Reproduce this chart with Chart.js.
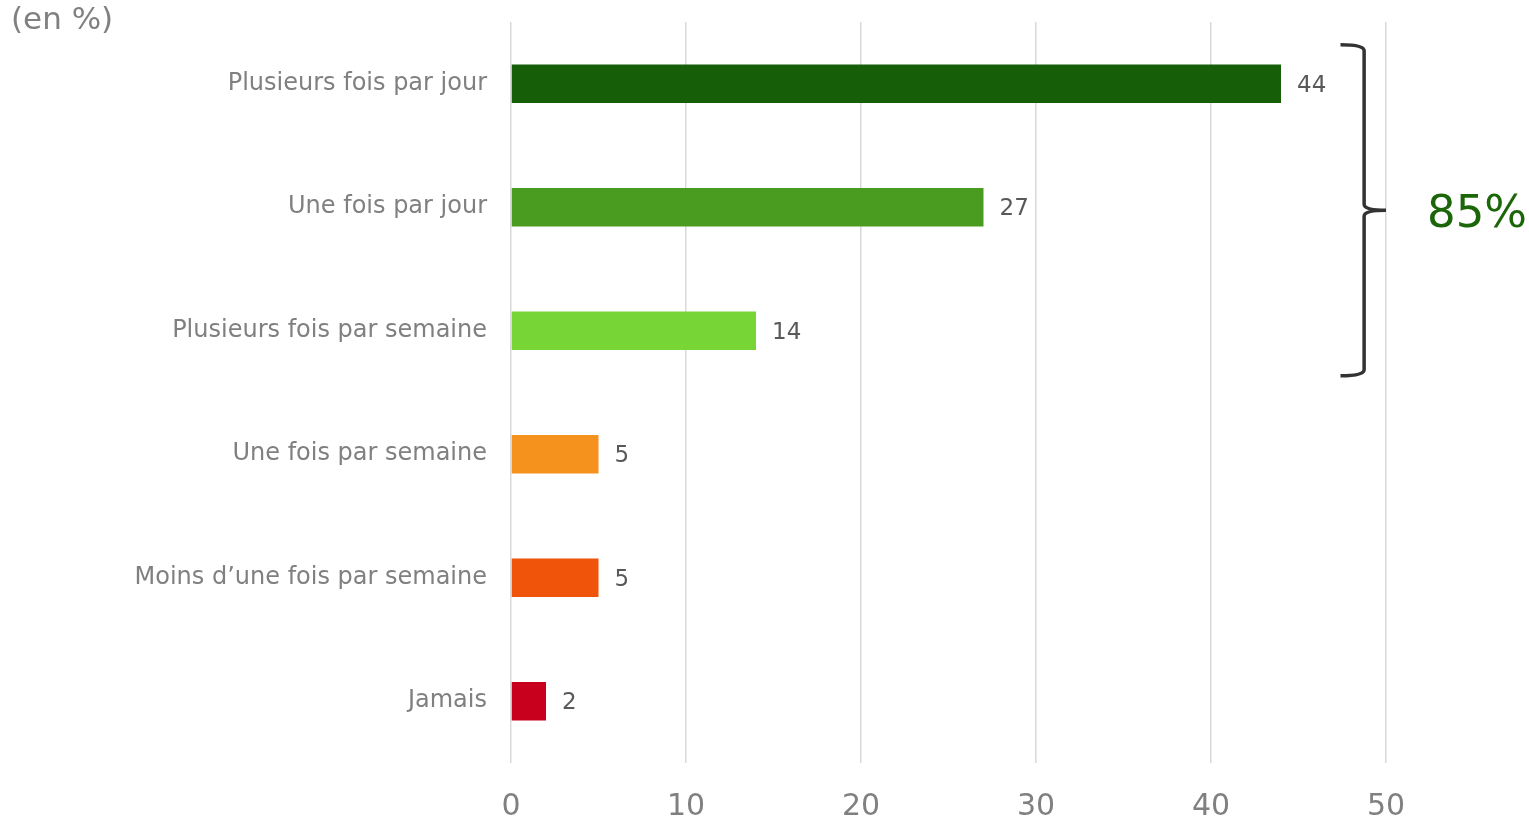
<!DOCTYPE html>
<html><head><meta charset="utf-8">
<script src="https://cdn.jsdelivr.net/npm/chart.js@4/dist/chart.umd.min.js"></script>
<style>html,body{margin:0;padding:0;background:#fff}#wrap{width:1529px;height:825px}</style>
</head><body><div id="wrap"><canvas id="c"></canvas></div>
<script>
const categories = ["Plusieurs fois par jour","Une fois par jour","Plusieurs fois par semaine","Une fois par semaine","Moins d\u2019une fois par semaine","Jamais"];
const values = [44,27,14,5,5,2];
const barColors = ["#165e08","#4a9c20","#77d636","#f5921e","#f0540a","#c8001e"];
const xTicks = [0,10,20,30,40,50];
const unitLabel = "(en %)";
const bracketLabel = "85%";
const bracketRange = [0,2];
const FONT = "DejaVu Sans, Verdana, sans-serif";

const extras = {
  id:'extras',
  afterDatasetsDraw(chart){
    const ctx = chart.ctx;
    const meta = chart.getDatasetMeta(0);
    ctx.save();
    ctx.font = "23px " + FONT;
    ctx.fillStyle = "#595959";
    ctx.textBaseline = "middle";
    ctx.textAlign = "left";
    meta.data.forEach((el,i)=>{
      ctx.fillText(String(values[i]), el.x + 16, el.y + 2);
    });
    // unit label
    ctx.font = "31px " + FONT;
    ctx.fillStyle = "#808080";
    ctx.textBaseline = "middle";
    ctx.fillText(unitLabel, 11, 21);
    // bracket
    const xs = chart.scales.x, ys = chart.scales.y;
    const step = ys.getPixelForValue(1) - ys.getPixelForValue(0);
    const yTop = ys.getPixelForValue(bracketRange[0]) - step*0.315;
    const yBot = ys.getPixelForValue(bracketRange[1]) + step*0.365;
    const yMid = (yTop + yBot)/2;
    const xL = xs.getPixelForValue(47.4);
    const xV = xs.getPixelForValue(48.75);
    const xTip = xs.getPixelForValue(50);
    const r = 6;
    ctx.strokeStyle = "#333333";
    ctx.lineWidth = 3.5;
    ctx.beginPath();
    ctx.moveTo(xL, yTop);
    ctx.quadraticCurveTo(xV, yTop, xV, yTop + r);
    ctx.lineTo(xV, yMid - r);
    ctx.quadraticCurveTo(xV, yMid, xTip, yMid);
    ctx.moveTo(xTip, yMid);
    ctx.quadraticCurveTo(xV, yMid, xV, yMid + r);
    ctx.lineTo(xV, yBot - r);
    ctx.quadraticCurveTo(xV, yBot, xL, yBot);
    ctx.stroke();
    ctx.font = "45px " + FONT;
    ctx.fillStyle = "#1b6608";
    ctx.textAlign = "left";
    ctx.textBaseline = "middle";
    ctx.fillText(bracketLabel, xTip + 41, yMid + 5);
    ctx.restore();
  }
};

new Chart(document.getElementById('c'), {
  type:'bar',
  data:{labels:categories, datasets:[{data:values, backgroundColor:barColors, barPercentage:0.31, categoryPercentage:1.0}]},
  options:{
    indexAxis:'y', responsive:true, maintainAspectRatio:false, animation:false,
    layout:{padding:{top:22,right:143,left:0,bottom:0}},
    plugins:{legend:{display:false}, tooltip:{enabled:false}},
    scales:{
      x:{min:0,max:50,
        afterBuildTicks(s){ s.ticks = xTicks.map(v=>({value:v})); },
        afterFit(s){ s.height = 62; s.paddingLeft = 0; s.paddingRight = 0; },
        grid:{color:"#d9d9d9", lineWidth:1.5, drawTicks:false},
        border:{display:false},
        ticks:{padding:26, color:"#808080", font:{family:FONT, size:30}}
      },
      y:{
        afterFit(s){ s.width = 511; s.paddingTop = 0; s.paddingBottom = 0; },
        grid:{display:false, drawTicks:false},
        border:{display:false},
        ticks:{padding:24, color:"#808080", font:{family:FONT, size:24, lineHeight:1.05}}
      }
    }
  },
  plugins:[extras]
});
</script></body></html>
